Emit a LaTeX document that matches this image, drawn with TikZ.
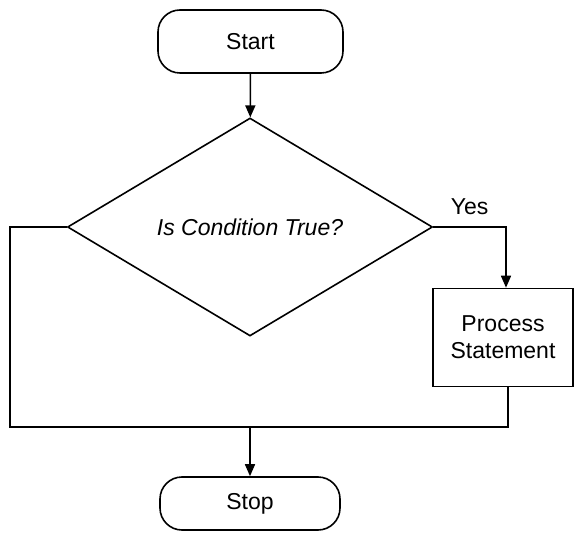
\documentclass[tikz,border=0pt]{standalone}
\usepackage{fontspec}
\setmainfont{Liberation Sans}
\usetikzlibrary{shapes.geometric,arrows.meta}
\begin{document}
\begin{tikzpicture}[x=1pt,y=-1pt,
  line width=1.6pt,
  every node/.style={font=\fontsize{23}{27}\selectfont},
  terminal/.style={draw,rounded corners=22pt,inner sep=0pt},
  decision/.style={draw,diamond,inner sep=0pt},
  procbox/.style={draw,inner sep=0pt,align=center},
  flow/.style={-{Triangle[length=12pt,width=10pt]}}]
\useasboundingbox (0,0) rectangle (575,534);
\node[terminal,minimum width=185pt,minimum height=63pt] (start) at (250.5,41.5) {Start};
\node[decision,minimum width=365pt,minimum height=218pt] (cond) at (250,227) {\itshape Is Condition True?};
\node[procbox,minimum width=140pt,minimum height=98pt] (proc) at (503,337.5) {Process\\Statement};
\node[terminal,minimum width=180pt,minimum height=53pt] (stop) at (250,503.5) {Stop};
\coordinate (join) at (250,427);
\node[anchor=base west,inner sep=0pt] (yes) at (450,215) {Yes};
\draw[flow] (start) -- (cond);
\draw[flow] (cond.east) -| ([xshift=3pt]proc.north);
\draw ([xshift=5pt]proc.south) |- (join);
\draw (cond.west) -- (10,227) |- (join);
\draw[flow] (join) -- (stop);
\end{tikzpicture}
\end{document}
